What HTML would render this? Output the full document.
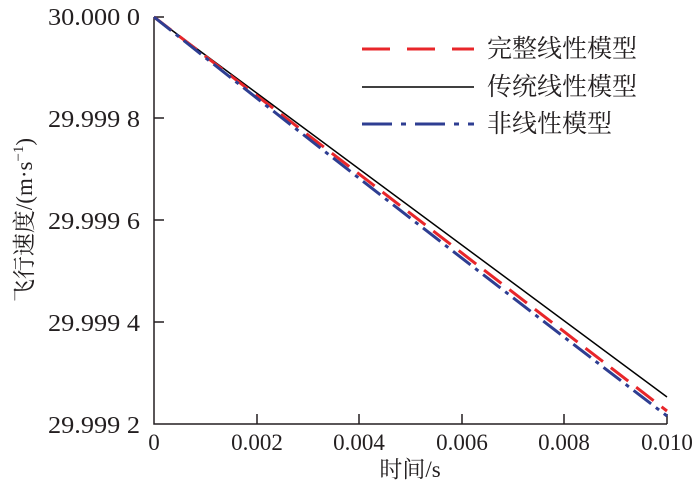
<!DOCTYPE html>
<html><head><meta charset="utf-8"><style>
body{margin:0;background:#fff}
svg text{font-family:"Liberation Serif","Noto Serif CJK SC",serif;fill:#231f20}
</style></head><body>
<svg width="700" height="489" viewBox="0 0 700 489" xmlns="http://www.w3.org/2000/svg">
<g stroke="#231f20" stroke-width="1.5" fill="none">
<path d="M154 17V424H667"/>
<path d="M154 17h10M154 118h10M154 220h10M154 322h10"/>
<path d="M257 424v-10M359 424v-10M462 424v-10M564 424v-10M667 424v-10"/>
</g>
<g font-size="24" text-anchor="end">
<text x="140" y="25" textLength="92" lengthAdjust="spacingAndGlyphs">30.000 0</text>
<text x="140" y="127" textLength="92" lengthAdjust="spacingAndGlyphs">29.999 8</text>
<text x="140" y="229" textLength="92" lengthAdjust="spacingAndGlyphs">29.999 6</text>
<text x="140" y="331" textLength="92" lengthAdjust="spacingAndGlyphs">29.999 4</text>
<text x="140" y="433" textLength="92" lengthAdjust="spacingAndGlyphs">29.999 2</text>
</g>
<g font-size="23" text-anchor="middle">
<text x="154" y="450">0</text>
<text x="257" y="450">0.002</text>
<text x="359" y="450">0.004</text>
<text x="462" y="450">0.006</text>
<text x="564" y="450">0.008</text>
<text x="667" y="450">0.010</text>
<text x="410" y="477">时间/s</text>
</g>
<text font-size="23" transform="translate(32 220) rotate(-90)" text-anchor="middle">飞行速度/(m·s<tspan font-size="15" dy="-9">−1</tspan><tspan dy="9">)</tspan></text>
<path d="M154 17L667 397" stroke="#000" stroke-width="1.5" fill="none"/>
<path d="M154 17Q400 205 667 411" stroke="#e8262a" stroke-width="3" stroke-dasharray="22 10" fill="none"/>
<path d="M154 17Q395 208 667 416" stroke="#2e3e92" stroke-width="3" stroke-dasharray="22 6 4 6" fill="none"/>
<path d="M362 49H474" stroke="#e8262a" stroke-width="3" stroke-dasharray="28 17"/>
<path d="M362 87H474" stroke="#000" stroke-width="1.5"/>
<path d="M362 124H474" stroke="#2e3e92" stroke-width="3" stroke-dasharray="30 9 5 9"/>
<g font-size="25">
<text x="487" y="57">完整线性模型</text>
<text x="487" y="95">传统线性模型</text>
<text x="487" y="132">非线性模型</text>
</g>
</svg>
</body></html>
